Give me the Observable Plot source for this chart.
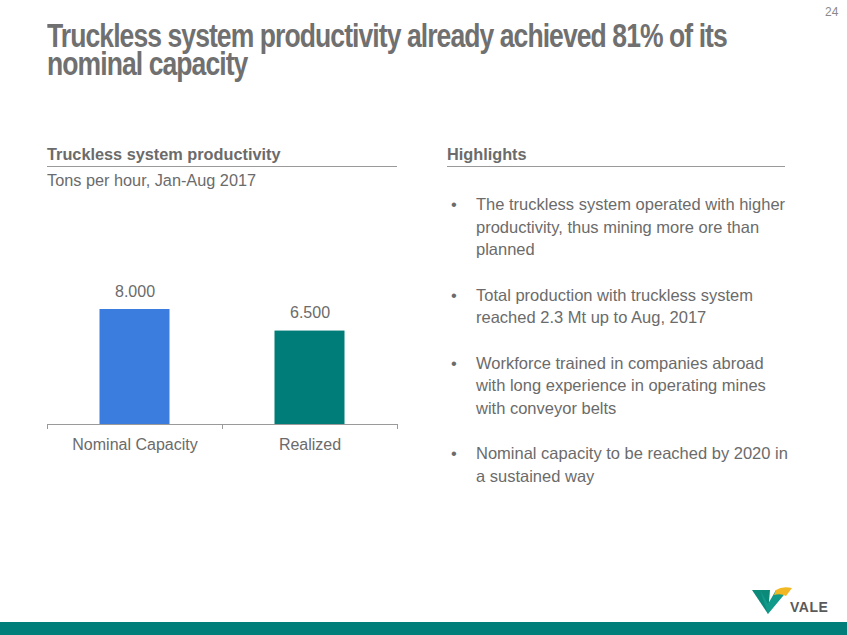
<!DOCTYPE html>
<html>
<head>
<meta charset="utf-8">
<script src="https://cdn.jsdelivr.net/npm/d3@7"></script>
<script src="https://cdn.jsdelivr.net/npm/@observablehq/plot@0.6"></script>
<style>
  html, body { margin: 0; padding: 0; background: #fff; }
  body { width: 847px; height: 635px; position: relative; overflow: hidden; font-family: "Liberation Sans", Arial, sans-serif; color: #6b6b6b; }
  .abs { position: absolute; }
  #title { left: 47px; top: 22px; font-family: "Liberation Sans", Arial, sans-serif; font-weight: bold; font-size: 34px; line-height: 27.5px; color: #707070; letter-spacing: -1.2px; white-space: nowrap; transform-origin: 0 0; }
  #pagenum { left: 825px; top: 5px; font-size: 12px; color: #8a8a8a; }
  .head { font-weight: bold; font-size: 16.3px; color: #6b6b6b; border-bottom: 1px solid #9a9a9a; padding-bottom: 2px; }
  #lhead { left: 47px; top: 145px; width: 350px; }
  #rhead { left: 447px; top: 145px; width: 338px; }
  #sub { left: 47px; top: 171px; font-size: 16.3px; }
  #chart { left: 0; top: 200px; }
  #bullets { left: 447px; top: 193px; width: 343px; font-size: 16.5px; line-height: 22.5px; margin: 0; padding: 0; list-style: none; }
  #bullets li { position: relative; padding-left: 29px; margin-bottom: 23px; }
  #bullets li::before { content: "•"; position: absolute; left: 4px; top: 0; }
  #band { left: 0; top: 622px; width: 847px; height: 13px; background: #007e7a; }
  #logo { left: 748px; top: 584px; }
</style>
</head>
<body>
<div id="pagenum" class="abs">24</div>
<div id="title" class="abs">Truckless system productivity already achieved 81% of its<br>nominal capacity</div>
<div id="lhead" class="abs head">Truckless system productivity</div>
<div id="sub" class="abs">Tons per hour, Jan-Aug 2017</div>
<div id="rhead" class="abs head">Highlights</div>
<div id="chart" class="abs"></div>
<ul id="bullets" class="abs"></ul>
<svg id="logo" class="abs" width="90" height="36" viewBox="0 0 90 36">
  <path d="M4 6 L22 6 L20 30 Z" fill="#0b8a7a"/>
  <path d="M12 6 L20 30 L40 6 L28 6 L20 20 Z" fill="#11998a"/>
  <path d="M28 6 Q34 2 44 4 L38 12 Q33 9 26 11 Z" fill="#f2b824"/>
  <text x="42" y="28" font-family="Liberation Sans, Arial, sans-serif" font-weight="bold" font-size="14" fill="#5a5a5a" letter-spacing="0.5">VALE</text>
</svg>
<div id="band" class="abs"></div>
<script>
const categories = ["Nominal Capacity", "Realized"];
const values = [8000, 6500];
const barColors = ["#3a7dde", "#007d78"];
const highlights = [
  "The truckless system operated with higher productivity, thus mining more ore than planned",
  "Total production with truckless system reached 2.3 Mt up to Aug, 2017",
  "Workforce trained in companies abroad with long experience in operating mines with conveyor belts",
  "Nominal capacity to be reached by 2020 in a sustained way"
];

const data = categories.map((c, i) => ({category: c, value: values[i], color: barColors[i]}));
const fmt = d3.formatLocale({decimal: ",", thousands: ".", grouping: [3], currency: ["", ""]}).format(",d");

const gray = "#6b6b6b";
const chart = Plot.plot({
  width: 420,
  height: 260,
  marginLeft: 47,
  marginRight: 23,
  marginTop: 109,
  marginBottom: 36,
  style: {fontFamily: "Liberation Sans, Arial, sans-serif", color: gray, background: "transparent", overflow: "visible"},
  x: {domain: categories, padding: 0, axis: null},
  y: {domain: [0, 8000], axis: null},
  marks: [
    Plot.barY(data, {x: "category", y: "value", fill: "color", insetLeft: 52.5, insetRight: 52.5}),
    Plot.ruleY([0], {stroke: "#9a9a9a", strokeWidth: 1}),
    Plot.ruleX(categories, {x: d => d, y1: 0, y2: 0, dx: -87.5, insetBottom: -5, stroke: "#9a9a9a"}),
    Plot.ruleX(categories.slice(-1), {x: d => d, y1: 0, y2: 0, dx: 87.5, insetBottom: -5, stroke: "#9a9a9a"}),
    Plot.text(data, {x: "category", y: "value", text: d => fmt(d.value), dy: -18, fontSize: 16, fill: gray}),
    Plot.axisX({tickSize: 0, tickPadding: 14, fontSize: 16, color: gray, label: null})
  ]
});
document.getElementById("chart").appendChild(chart);

const ul = document.getElementById("bullets");
highlights.forEach(t => { const li = document.createElement("li"); li.textContent = t; ul.appendChild(li); });

// condense the title to the reference's width (line 1 spans ~680px)
const title = document.getElementById("title");
const w = title.scrollWidth;
const s = 680 / w;
title.style.transform = `scaleX(${s})`;
</script>
</body>
</html>
